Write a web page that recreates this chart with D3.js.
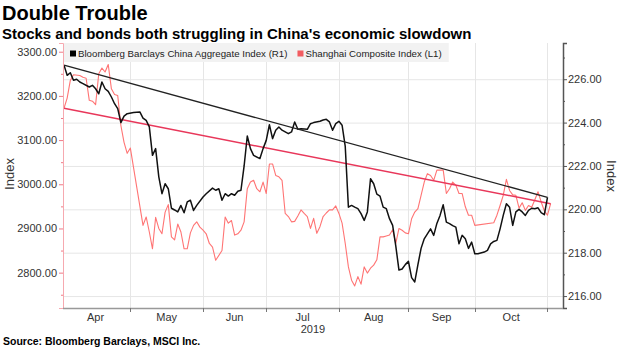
<!DOCTYPE html>
<html>
<head>
<meta charset="utf-8">
<title>Double Trouble</title>
<script src="https://cdn.jsdelivr.net/npm/d3@7"></script>
<style>
  body { margin: 0; background: #fff; }
  text { font-family: "Liberation Sans", Arial, sans-serif; }
</style>
</head>
<body>
<script>
// Bloomberg Barclays China Aggregate Index (right axis)
var bondSeries = [
  ["04-01",226.65],["04-02",226.18],["04-03",226.30],["04-04",225.95],["04-05",226.00],["04-08",225.87],
  ["04-09",225.80],["04-11",225.64],["04-12",225.72],["04-15",225.56],["04-16",225.33],["04-17",225.87],
  ["04-18",225.56],["04-19",225.44],["04-22",225.18],["04-23",224.87],["04-24",224.64],["04-25",224.00],
  ["04-26",224.30],["04-29",224.41],["05-01",224.46],["05-03",224.49],["05-06",224.21],["05-07",224.10],
  ["05-08",223.80],["05-09",222.49],["05-10",222.80],["05-13",221.50],["05-14",220.72],["05-15",221.18],
  ["05-16",220.95],["05-17",220.05],["05-20",219.97],["05-21",219.88],["05-22",220.18],["05-23",219.84],
  ["05-24",220.34],["05-27",220.42],["05-28",219.95],["05-29",220.18],["05-31",220.57],["06-03",220.72],
  ["06-05",220.98],["06-06",220.88],["06-07",220.95],["06-10",220.42],["06-11",220.72],["06-12",220.61],
  ["06-13",220.72],["06-14",220.65],["06-17",220.83],["06-18",220.88],["06-19",222.00],["06-20",223.38],
  ["06-21",222.80],["06-24",222.49],["06-26",222.34],["06-27",222.80],["06-28",223.18],["07-01",223.90],
  ["07-02",223.26],["07-03",223.65],["07-04",223.80],["07-05",223.65],["07-09",223.49],["07-10",223.57],
  ["07-11",224.03],["07-12",223.69],["07-15",223.72],["07-17",223.69],["07-18",223.95],["07-19",224.00],
  ["07-23",224.06],["07-24",224.12],["07-25",224.15],["07-26",224.03],["07-29",223.65],["07-30",223.95],
  ["07-31",224.06],["08-01",223.88],["08-02",222.90],["08-05",220.10],["08-06",220.18],["08-07",220.10],
  ["08-08",220.03],["08-09",219.80],["08-12",219.49],["08-13",219.88],["08-14",221.41],["08-15",221.18],
  ["08-16",220.70],["08-19",220.61],["08-20",220.10],["08-21",220.03],["08-22",219.57],["08-23",219.26],
  ["08-26",218.30],["08-27",217.20],["08-28",217.25],["08-29",217.45],["08-30",217.60],["09-02",216.85],
  ["09-03",216.65],["09-04",217.45],["09-05",218.20],["09-06",218.64],["09-09",218.87],["09-10",219.10],
  ["09-11",218.80],["09-12",219.35],["09-13",219.72],["09-16",220.21],["09-17",219.41],["09-18",219.34],
  ["09-19",219.25],["09-20",219.18],["09-23",218.41],["09-24",218.80],["09-25",218.64],["09-26",218.20],
  ["09-27",218.49],["09-30",217.95],["10-01",217.95],["10-03",218.03],["10-04",218.11],["10-07",218.41],
  ["10-08",218.52],["10-09",218.57],["10-10",219.10],["10-11",219.72],["10-14",220.26],["10-15",220.10],
  ["10-16",219.26],["10-17",219.88],["10-18",220.00],["10-21",219.88],["10-22",219.72],["10-23",219.95],
  ["10-24",220.05],["10-25",220.03],["10-28",220.07],["10-29",219.85],["10-30",219.75],["10-31",220.55]
];

// Shanghai Composite Index (left axis)
var stockSeries = [
  ["04-01",3172],["04-02",3195],["04-03",3235],["04-04",3248],["04-08",3246],["04-09",3242],["04-10",3240],
  ["04-11",3190],["04-12",3188],["04-15",3180],["04-16",3250],["04-17",3263],["04-18",3254],["04-19",3271],
  ["04-22",3216],["04-23",3203],["04-24",3201],["04-25",3133],["04-26",3095],["04-29",3070],["04-30",3082],
  ["05-06",2907],["05-07",2926],["05-08",2892],["05-09",2854],["05-10",2925],["05-13",2900],["05-14",2888],
  ["05-15",2937],["05-16",2954],["05-17",2881],["05-20",2874],["05-21",2910],["05-22",2892],["05-23",2854],
  ["05-24",2854],["05-27",2890],["05-28",2907],["05-29",2915],["05-30",2903],["05-31",2896],["06-03",2888],
  ["06-04",2866],["06-05",2858],["06-06",2828],["06-10",2850],["06-11",2926],["06-12",2912],["06-13",2918],
  ["06-14",2885],["06-17",2888],["06-18",2896],["06-19",2915],["06-20",2990],["06-21",3005],["06-24",3009],
  ["06-25",2990],["06-26",2983],["06-27",3005],["06-28",2979],["07-01",3046],["07-02",3046],["07-03",3020],
  ["07-04",3017],["07-05",3009],["07-08",2934],["07-09",2927],["07-10",2915],["07-11",2916],["07-12",2928],
  ["07-15",2942],["07-16",2934],["07-17",2927],["07-18",2900],["07-19",2923],["07-22",2889],["07-23",2904],
  ["07-24",2927],["07-25",2935],["07-26",2942],["07-29",2942],["07-30",2951],["07-31",2934],["08-01",2912],
  ["08-02",2866],["08-05",2813],["08-06",2783],["08-07",2770],["08-08",2791],["08-09",2774],["08-12",2813],
  ["08-13",2799],["08-14",2810],["08-15",2817],["08-16",2829],["08-19",2881],["08-20",2881],["08-21",2883],
  ["08-22",2885],["08-23",2897],["08-26",2866],["08-27",2900],["08-28",2896],["08-29",2890],["08-30",2888],
  ["09-02",2922],["09-03",2937],["09-04",2945],["09-05",2975],["09-06",3005],["09-09",3024],["09-10",3020],
  ["09-11",3009],["09-12",3032],["09-16",3032],["09-17",2979],["09-18",2990],["09-19",3005],["09-20",2998],
  ["09-23",2979],["09-24",2979],["09-25",2949],["09-26",2930],["09-27",2930],["09-30",2907],["10-08",2913],
  ["10-09",2930],["10-10",2952],["10-11",2975],["10-14",3011],["10-15",2986],["10-16",2976],["10-17",2975],
  ["10-18",2946],["10-21",2958],["10-22",2941],["10-23",2952],["10-24",2948],["10-25",2965],["10-28",2983],
  ["10-29",2960],["10-30",2940],["10-31",2930],["11-01",2956]
];

var monthLabels = ["Apr", "May", "Jun", "Jul", "Aug", "Sep", "Oct"];
// month breaks sit on the last weekday of each month
var monthBreaks = ["03-29", "04-30", "05-31", "06-28", "07-31", "08-30", "09-30", "10-31"];
var yearLabel = "2019";
var leftTicks = [2800, 2900, 3000, 3100, 3200, 3300];
var leftMinor = [2750, 2850, 2950, 3050, 3150, 3250];
var rightTicks = [216, 218, 220, 222, 224, 226];
var rightMinor = [217, 219, 221, 223, 225, 227];

var W = 620, H = 348;
var plot = {left: 63, right: 563, top: 43, bottom: 308};

var svg = d3.select("body").append("svg")
  .attr("width", W).attr("height", H);

// the time axis counts weekdays only (Bloomberg style)
var parseDay = d3.timeParse("%Y-%m-%d");
var start = parseDay("2019-04-01");
var weekdays = d3.timeDay.filter(function(d) { return d.getDay() !== 0 && d.getDay() !== 6; });
function dayIndex(s) {
  var d = parseDay("2019-" + s);
  return d < start ? -weekdays.range(d, start).length : weekdays.range(start, d).length;
}

var x = d3.scaleLinear().domain([-0.316, 157.91]).range([plot.left, plot.right]);
var yL = d3.scaleLinear().domain([2720, 3319.7]).range([plot.bottom, plot.top]);
var yR = d3.scaleLinear().domain([215.45, 227.67]).range([plot.bottom, plot.top]);

var bonds = bondSeries.map(function(d) { return {i: dayIndex(d[0]), v: d[1]}; });
var stocks = stockSeries.map(function(d) { return {i: dayIndex(d[0]), v: d[1]}; });
var breaks = monthBreaks.map(dayIndex);

// title block
svg.append("text").attr("x", 2).attr("y", 20)
  .attr("font-size", 20).attr("font-weight", "bold").text("Double Trouble");
svg.append("text").attr("x", 2).attr("y", 38.5)
  .attr("font-size", 15).attr("font-weight", "bold")
  .text("Stocks and bonds both struggling in China's economic slowdown");

// grid
var grid = svg.append("g");
grid.selectAll(".hg").data(rightTicks).enter().append("line")
  .attr("x1", plot.left).attr("x2", plot.right)
  .attr("y1", function(d) { return yR(d) + 0.5; }).attr("y2", function(d) { return yR(d) + 0.5; })
  .attr("stroke", "#e6e6e6");
grid.selectAll(".vg").data(breaks.slice(1)).enter().append("line")
  .attr("x1", function(d) { return Math.round(x(d)) + 0.5; })
  .attr("x2", function(d) { return Math.round(x(d)) + 0.5; })
  .attr("y1", plot.top).attr("y2", plot.bottom)
  .attr("stroke", "#e6e6e6");

// legend
var leg = svg.append("g");
var legBox = leg.append("rect").attr("x", plot.left + 1).attr("y", plot.top).attr("height", 19)
  .attr("fill", "#f2f2f2");
var items = [
  {label: "Bloomberg Barclays China Aggregate Index (R1)", color: "#000"},
  {label: "Shanghai Composite Index (L1)", color: "#f25c60"}
];
var lx = 70;
items.forEach(function(it) {
  leg.append("rect").attr("x", lx).attr("y", 50.5).attr("width", 6).attr("height", 6).attr("fill", it.color);
  var t = leg.append("text").attr("x", lx + 8).attr("y", 57)
    .attr("font-size", 9.7).attr("fill", "#222").text(it.label);
  lx += 8 + t.node().getComputedTextLength() + 10;
});
legBox.attr("width", lx - plot.left - 4);

// series
var lineL = d3.line().x(function(d) { return x(d.i); }).y(function(d) { return yL(d.v); });
var lineR = d3.line().x(function(d) { return x(d.i); }).y(function(d) { return yR(d.v); });

svg.append("path").datum(stocks).attr("d", lineL)
  .attr("fill", "none").attr("stroke", "#ff7474").attr("stroke-width", 1.1).attr("stroke-linejoin", "round");
svg.append("path").datum([stocks[0], stocks[stocks.length - 1]]).attr("d", lineL)
  .attr("fill", "none").attr("stroke", "#e8375a").attr("stroke-width", 1.5);
svg.append("path").datum(bonds).attr("d", lineR)
  .attr("fill", "none").attr("stroke", "#111").attr("stroke-width", 1.5).attr("stroke-linejoin", "round");
svg.append("path").datum([bonds[0], bonds[bonds.length - 1]]).attr("d", lineR)
  .attr("fill", "none").attr("stroke", "#222").attr("stroke-width", 1.4);

// left axis
var axL = svg.append("g").attr("transform", "translate(" + plot.left + ",0)")
  .call(d3.axisLeft(yL).tickValues(leftTicks).tickFormat(d3.format(".2f")).tickSizeOuter(0).tickSize(4).tickPadding(2));
axL.select(".domain").attr("stroke", "#f6a9b0");
axL.selectAll(".tick line").attr("stroke", "#f07a86");
axL.selectAll("text").attr("font-size", 11).attr("fill", "#333").style("font-family", "'Liberation Sans', Arial, sans-serif");
axL.selectAll(".minor").data(leftMinor).enter().append("line")
  .attr("x1", -2).attr("x2", 0)
  .attr("y1", function(d) { return yL(d) + 0.5; }).attr("y2", function(d) { return yL(d) + 0.5; })
  .attr("stroke", "#f07a86");

// right axis
var axR = svg.append("g").attr("transform", "translate(" + plot.right + ",0)")
  .call(d3.axisRight(yR).tickValues(rightTicks).tickFormat(d3.format(".2f")).tickSizeOuter(0).tickSize(4).tickPadding(1));
axR.select(".domain").attr("stroke", "#555").attr("stroke-width", 1.5);
axR.selectAll(".tick line").attr("stroke", "#555");
axR.selectAll("text").attr("font-size", 11).attr("fill", "#333").style("font-family", "'Liberation Sans', Arial, sans-serif");
axR.selectAll(".minor").data(rightMinor).enter().append("line")
  .attr("x1", 0).attr("x2", 2)
  .attr("y1", function(d) { return yR(d) + 0.5; }).attr("y2", function(d) { return yR(d) + 0.5; })
  .attr("stroke", "#555");

// bottom axis
var axB = svg.append("g").attr("transform", "translate(0," + plot.bottom + ")");
axB.append("line").attr("x1", plot.left).attr("x2", plot.right).attr("y1", 0.5).attr("y2", 0.5)
  .attr("stroke", "#999").attr("stroke-width", 1.3);
axB.selectAll(".mt").data(breaks.slice(1)).enter().append("line")
  .attr("x1", function(d) { return Math.round(x(d)) + 0.5; })
  .attr("x2", function(d) { return Math.round(x(d)) + 0.5; })
  .attr("y1", 0).attr("y2", 4).attr("stroke", "#777");
axB.selectAll(".ml").data(monthLabels).enter().append("text")
  .attr("x", function(d, k) { return x((breaks[k] + breaks[k + 1]) / 2); })
  .attr("y", 12.5).attr("text-anchor", "middle").attr("font-size", 11).attr("fill", "#333")
  .text(function(d) { return d; });
axB.append("text").attr("x", (plot.left + plot.right) / 2).attr("y", 25)
  .attr("text-anchor", "middle").attr("font-size", 11).attr("fill", "#333").text(yearLabel);

// axis titles
svg.append("text").attr("transform", "translate(13.5,174) rotate(-90)")
  .attr("text-anchor", "middle").attr("font-size", 13).attr("fill", "#333").text("Index");
svg.append("text").attr("transform", "translate(607,176) rotate(90)")
  .attr("text-anchor", "middle").attr("font-size", 13).attr("fill", "#333").text("Index");

// source
svg.append("text").attr("x", 3).attr("y", 345)
  .attr("font-size", 10.5).attr("font-weight", "bold").text("Source: Bloomberg Barclays, MSCI Inc.");
</script>
</body>
</html>
